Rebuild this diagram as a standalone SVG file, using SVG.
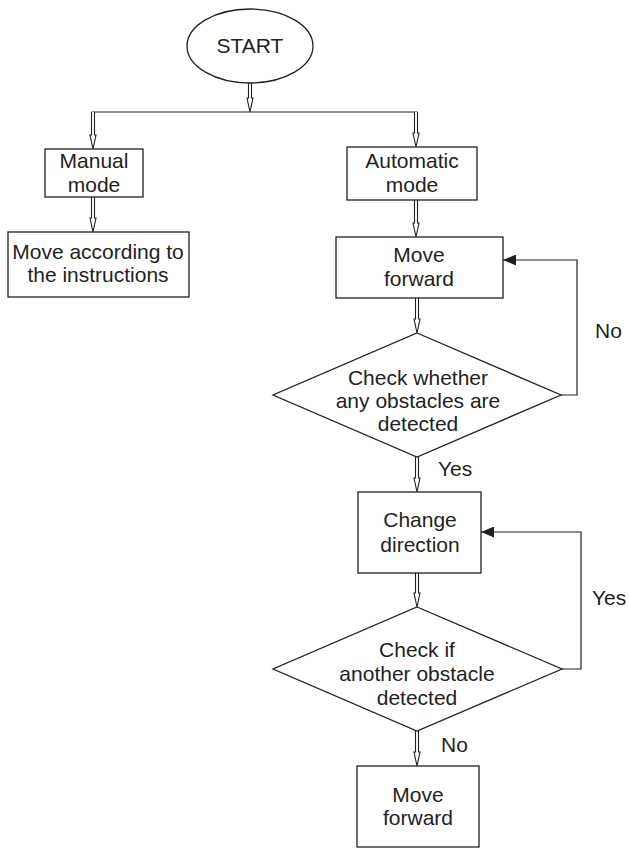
<svg xmlns="http://www.w3.org/2000/svg" width="629" height="849" viewBox="0 0 629 849">
<style>
.shape{fill:#fff;stroke:#231f20;stroke-width:1.3}
.conn{fill:none;stroke:#231f20;stroke-width:1.2}
.hollow{fill:#fff;stroke:#231f20;stroke-width:1.1}
text{font-family:"Liberation Sans",Arial,Helvetica,sans-serif;font-size:21px;fill:#231f20;text-anchor:middle}
.lbl{text-anchor:start}
</style>
<defs>
<marker id="solid" viewBox="0 0 13 11" refX="13" refY="5.5" markerWidth="13" markerHeight="11" markerUnits="userSpaceOnUse" orient="auto">
<path d="M0,0 L13,5.5 L0,11 Z" fill="#231f20"/>
</marker>
</defs>
<rect width="629" height="849" fill="#fff"/>
<g id="connectors">
<path class="conn" d="M91.5,112 H417.5"/>
<path class="hollow" d="M248.5,83 V98 H247 L250,112 L253,98 H251.5 V83"/>
<path class="hollow" d="M91.5,112 V135 H90 L93,149 L96,135 H94.5 V112"/>
<path class="hollow" d="M414.5,112 V133 H413 L416,147 L419,133 H417.5 V112"/>
<path class="hollow" d="M91.5,197 V218 H90 L93,232 L96,218 H94.5 V197"/>
<path class="hollow" d="M414.5,200 V223 H413 L416,237 L419,223 H417.5 V200"/>
<path class="hollow" d="M415.5,298 V319 H414 L417,333 L420,319 H418.5 V298"/>
<path class="hollow" d="M415.5,457 V478 H414 L417,492 L420,478 H418.5 V457"/>
<path class="hollow" d="M415.5,573 V593 H414 L417,607 L420,593 H418.5 V573"/>
<path class="hollow" d="M415.5,731 V752 H414 L417,766 L420,752 H418.5 V731"/>
<path class="conn" d="M561,395 H577 V260 H503" marker-end="url(#solid)"/>
<path class="conn" d="M562,669 H581 V532 H481" marker-end="url(#solid)"/>
<text class="lbl" x="595" y="338">No</text>
<text class="lbl" x="438" y="476">Yes</text>
<text class="lbl" x="592" y="605">Yes</text>
<text class="lbl" x="441" y="752">No</text>
</g>
<g id="start">
<ellipse class="shape" cx="250" cy="46" rx="63" ry="37"/>
<text x="250" y="53">START</text>
</g>
<g id="manual">
<rect class="shape" x="45" y="149" width="98" height="48"/>
<text x="94" y="168">Manual</text>
<text x="94" y="192">mode</text>
</g>
<g id="move-instructions">
<rect class="shape" x="8" y="232" width="181" height="65"/>
<text x="98" y="259">Move according to</text>
<text x="98" y="282">the instructions</text>
</g>
<g id="automatic">
<rect class="shape" x="347" y="147" width="130" height="53"/>
<text x="412" y="168">Automatic</text>
<text x="412" y="192">mode</text>
</g>
<g id="move-forward-1">
<rect class="shape" x="336" y="237" width="167" height="61"/>
<text x="419" y="262">Move</text>
<text x="419" y="286">forward</text>
</g>
<g id="check-obstacles">
<polygon class="shape" points="417,333 561,395 417,457 273,395"/>
<text x="418" y="385">Check whether</text>
<text x="418" y="408">any obstacles are</text>
<text x="418" y="431">detected</text>
</g>
<g id="change-direction">
<rect class="shape" x="358" y="492" width="123" height="81"/>
<text x="420" y="527">Change</text>
<text x="420" y="552">direction</text>
</g>
<g id="check-another">
<polygon class="shape" points="417,607 562,669 417,731 273,669"/>
<text x="417" y="657">Check if</text>
<text x="417" y="681">another obstacle</text>
<text x="417" y="705">detected</text>
</g>
<g id="move-forward-2">
<rect class="shape" x="357" y="766" width="122" height="81"/>
<text x="418" y="802">Move</text>
<text x="418" y="825">forward</text>
</g>
</svg>
